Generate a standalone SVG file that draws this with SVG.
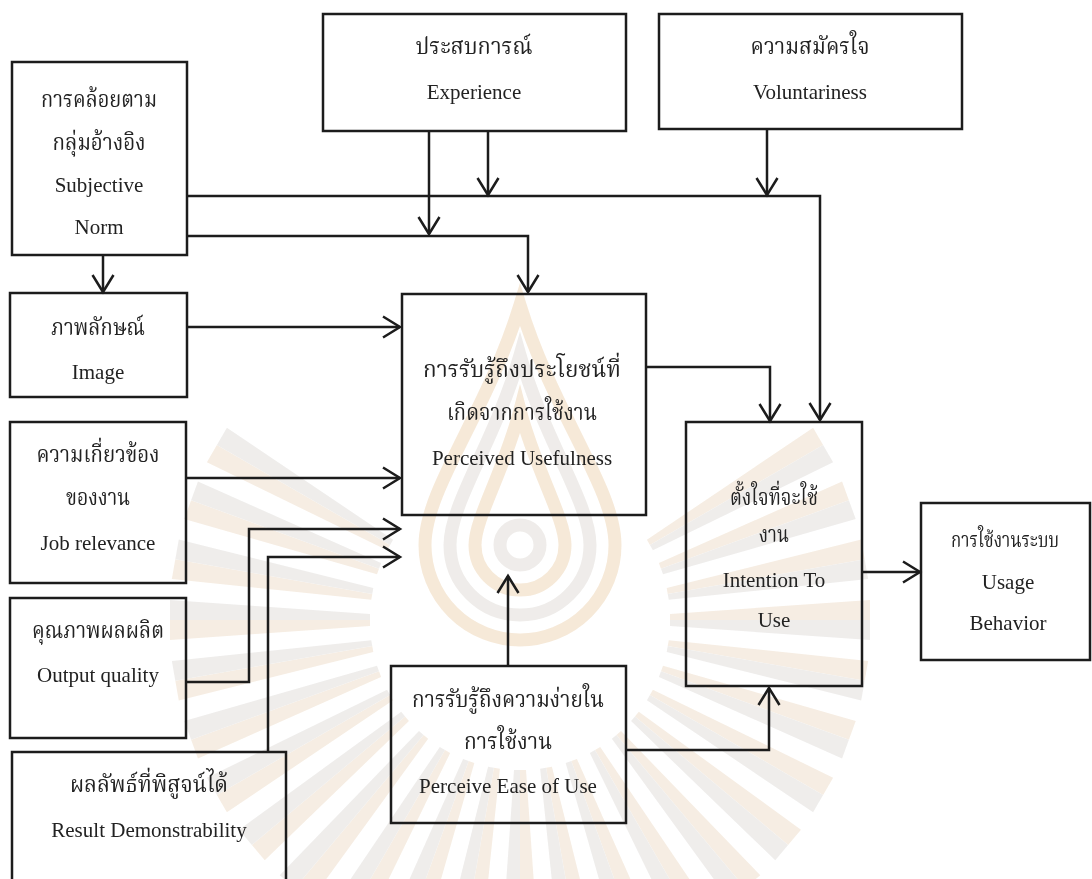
<svg xmlns="http://www.w3.org/2000/svg" xmlns:xlink="http://www.w3.org/1999/xlink" width="1092" height="879" viewBox="0 0 1092 879">
  <style>
    .box{fill:none;stroke:#1c1c1c;stroke-width:2.5}
    .conn{fill:none;stroke:#1c1c1c;stroke-width:2.5;marker-end:url(#open)}
    text{fill:#222;text-anchor:middle}
    .en{font-family:"Liberation Serif","Times New Roman",Tinos,"DejaVu Serif",serif;font-size:21px}
    .th{font-family:"Noto Serif Thai","Noto Sans Thai Looped","Noto Sans Thai","Liberation Serif",serif;font-size:23px}
    .sm{font-size:22px}
  </style>
  <defs>
    <marker id="open" markerUnits="userSpaceOnUse" markerWidth="25" markerHeight="30" viewBox="-20 -15 25 30" refX="0" refY="0" orient="auto">
      <path d="M-17,-10.5 L0,0 L-17,10.5" fill="none" stroke="#1c1c1c" stroke-width="2.5"/>
    </marker>
    <!-- one bevelled sunburst ray, pointing along +x -->
    <g id="ray">
      <polygon points="150,-6 350,-20 350,0 150,0" fill="#f4e9dc"/>
      <polygon points="150,0 350,0 350,20 150,6" fill="#ebe9e7"/>
    </g>
  </defs>

  <rect width="1092" height="879" fill="#ffffff"/>

  <!-- faint emblem in the background -->
  <g id="emblem" opacity="0.8">
    <g transform="translate(520 620)">
      <use xlink:href="#ray" transform="rotate(-30)"/>
      <use xlink:href="#ray" transform="rotate(-20)"/>
      <use xlink:href="#ray" transform="rotate(-10)"/>
      <use xlink:href="#ray" transform="rotate(0)"/>
      <use xlink:href="#ray" transform="rotate(10)"/>
      <use xlink:href="#ray" transform="rotate(20)"/>
      <use xlink:href="#ray" transform="rotate(30)"/>
      <use xlink:href="#ray" transform="rotate(40)"/>
      <use xlink:href="#ray" transform="rotate(50)"/>
      <use xlink:href="#ray" transform="rotate(60)"/>
      <use xlink:href="#ray" transform="rotate(70)"/>
      <use xlink:href="#ray" transform="rotate(80)"/>
      <use xlink:href="#ray" transform="rotate(90)"/>
      <use xlink:href="#ray" transform="rotate(100)"/>
      <use xlink:href="#ray" transform="rotate(110)"/>
      <use xlink:href="#ray" transform="rotate(120)"/>
      <use xlink:href="#ray" transform="rotate(130)"/>
      <use xlink:href="#ray" transform="rotate(140)"/>
      <use xlink:href="#ray" transform="rotate(150)"/>
      <use xlink:href="#ray" transform="rotate(160)"/>
      <use xlink:href="#ray" transform="rotate(170)"/>
      <use xlink:href="#ray" transform="rotate(180)"/>
      <use xlink:href="#ray" transform="rotate(190)"/>
      <use xlink:href="#ray" transform="rotate(200)"/>
      <use xlink:href="#ray" transform="rotate(210)"/>
    </g>
    <g fill="none" stroke-width="13">
      <path d="M520,305 C553,413 615,488 615,545 A95,95 0 0 1 425,545 C425,488 487,413 520,305 Z" stroke="#f4e4cf"/>
      <path d="M520,355 C544.5,440.5 590,503 590,545 A70,70 0 0 1 450,545 C450,503 495.5,440.5 520,355 Z" stroke="#ebe8e5"/>
      <path d="M520,410 C535.75,470.75 565,518 565,545 A45,45 0 0 1 475,545 C475,518 504.25,470.75 520,410 Z" stroke="#f4e4cf"/>
      <circle cx="520" cy="545" r="20" stroke="#ebe8e5"/>
    </g>
  </g>

  <!-- connectors -->
  <g id="connectors">
    <path class="conn" d="M103,255 V292"/>
    <path class="conn" d="M187,196 H820 V420"/>
    <path class="conn" d="M187,236 H528 V292"/>
    <path class="conn" d="M429,131 V234"/>
    <path class="conn" d="M488,131 V195"/>
    <path class="conn" d="M767,129 V195"/>
    <path class="conn" d="M187,327 H400"/>
    <path class="conn" d="M186,478 H400"/>
    <path class="conn" d="M186,682 H249 V529 H400"/>
    <path class="conn" d="M268,752 V557 H400"/>
    <path class="conn" d="M508,666 V576"/>
    <path class="conn" d="M626,750 H769 V688"/>
    <path class="conn" d="M646,367 H770 V421"/>
    <path class="conn" d="M862,572 H920"/>
  </g>

  <g id="subjective-norm">
    <rect class="box" x="12" y="62" width="175" height="193"/>
    <text class="th" x="99" y="107" textLength="116" lengthAdjust="spacingAndGlyphs">การคล้อยตาม</text>
    <text class="th" x="99" y="150" textLength="93" lengthAdjust="spacingAndGlyphs">กลุ่มอ้างอิง</text>
    <text class="en" x="99" y="192">Subjective</text>
    <text class="en" x="99" y="234">Norm</text>
  </g>

  <g id="experience">
    <rect class="box" x="323" y="14" width="303" height="117"/>
    <text class="th" x="474" y="54" textLength="117" lengthAdjust="spacingAndGlyphs">ประสบการณ์</text>
    <text class="en" x="474" y="99">Experience</text>
  </g>

  <g id="voluntariness">
    <rect class="box" x="659" y="14" width="303" height="115"/>
    <text class="th" x="810" y="54" textLength="119" lengthAdjust="spacingAndGlyphs">ความสมัครใจ</text>
    <text class="en" x="810" y="99">Voluntariness</text>
  </g>

  <g id="image">
    <rect class="box" x="10" y="293" width="177" height="104"/>
    <text class="th" x="98" y="335" textLength="94" lengthAdjust="spacingAndGlyphs">ภาพลักษณ์</text>
    <text class="en" x="98" y="379">Image</text>
  </g>

  <g id="job-relevance">
    <rect class="box" x="10" y="422" width="176" height="161"/>
    <text class="th" x="98" y="462" textLength="123" lengthAdjust="spacingAndGlyphs">ความเกี่ยวข้อง</text>
    <text class="th" x="98" y="505" textLength="64" lengthAdjust="spacingAndGlyphs">ของงาน</text>
    <text class="en" x="98" y="550">Job relevance</text>
  </g>

  <g id="output-quality">
    <rect class="box" x="10" y="598" width="176" height="140"/>
    <text class="th" x="98" y="638" textLength="132" lengthAdjust="spacingAndGlyphs">คุณภาพผลผลิต</text>
    <text class="en" x="98" y="682">Output quality</text>
  </g>

  <g id="result-demonstrability">
    <rect class="box" x="12" y="752" width="274" height="140"/>
    <text class="th" x="149" y="792" textLength="158" lengthAdjust="spacingAndGlyphs">ผลลัพธ์ที่พิสูจน์ได้</text>
    <text class="en" x="149" y="837">Result Demonstrability</text>
  </g>

  <g id="perceived-usefulness">
    <rect class="box" x="402" y="294" width="244" height="221"/>
    <text class="th" x="522" y="377" textLength="198" lengthAdjust="spacingAndGlyphs">การรับรู้ถึงประโยชน์ที่</text>
    <text class="th" x="522" y="420" textLength="150" lengthAdjust="spacingAndGlyphs">เกิดจากการใช้งาน</text>
    <text class="en" x="522" y="465">Perceived Usefulness</text>
  </g>

  <g id="perceived-ease-of-use">
    <rect class="box" x="391" y="666" width="235" height="157"/>
    <text class="th" x="508" y="707" textLength="192" lengthAdjust="spacingAndGlyphs">การรับรู้ถึงความง่ายใน</text>
    <text class="th" x="508" y="749" textLength="88" lengthAdjust="spacingAndGlyphs">การใช้งาน</text>
    <text class="en" x="508" y="793">Perceive Ease of Use</text>
  </g>

  <g id="intention-to-use">
    <rect class="box" x="686" y="422" width="176" height="264"/>
    <text class="th" x="774" y="505" textLength="88" lengthAdjust="spacingAndGlyphs">ตั้งใจที่จะใช้</text>
    <text class="th" x="774" y="542" textLength="30" lengthAdjust="spacingAndGlyphs">งาน</text>
    <text class="en" x="774" y="587">Intention To</text>
    <text class="en" x="774" y="627">Use</text>
  </g>

  <g id="usage-behavior">
    <rect class="box" x="921" y="503" width="169" height="157"/>
    <text class="th sm" x="1005" y="547" textLength="108" lengthAdjust="spacingAndGlyphs">การใช้งานระบบ</text>
    <text class="en" x="1008" y="589">Usage</text>
    <text class="en" x="1008" y="630">Behavior</text>
  </g>
</svg>
